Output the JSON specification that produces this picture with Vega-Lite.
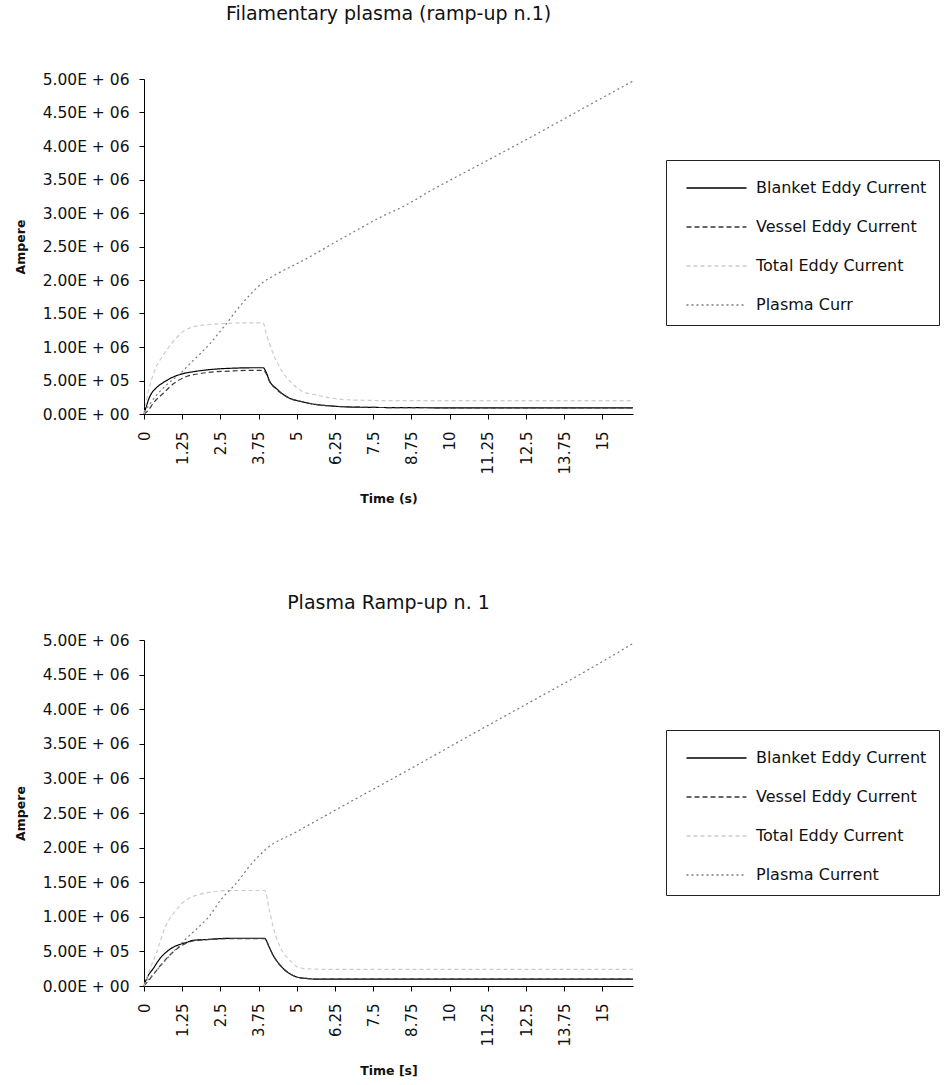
{
  "$schema": "https://vega.github.io/schema/vega-lite/v6.json",
  "padding": {"left": 14, "top": 5, "right": 0, "bottom": 0},
  "background": "white",
  "config": {
    "font": "DejaVu Sans",
    "view": {"stroke": null},
    "axis": {
      "grid": false,
      "domainColor": "#000",
      "domainWidth": 1,
      "tickColor": "#000",
      "tickSize": 5,
      "labelColor": "#111",
      "labelFont": "DejaVu Sans",
      "labelFontSize": 15,
      "titleFont": "DejaVu Sans",
      "titleFontSize": 12.5,
      "titleFontWeight": "bold",
      "titleColor": "#111"
    },
    "axisY": {"labelFontSize": 15.5, "labelPadding": 10, "titlePadding": 15},
    "axisX": {"labelPadding": 12, "titlePadding": 19},
    "title": {"font": "DejaVu Sans", "fontSize": 19, "fontWeight": "normal", "color": "#111", "anchor": "middle"},
    "legend": {
      "orient": "none",
      "direction": "vertical",
      "title": null,
      "strokeColor": "#222",
      "fillColor": "white",
      "padding": 12,
      "symbolType": "M-0.5,0H3.5",
      "symbolSize": 900,
      "symbolStrokeWidth": 1.4,
      "labelFont": "DejaVu Sans",
      "labelFontSize": 16,
      "labelColor": "#111",
      "labelOffset": 46,
      "labelLimit": 0,
      "rowPadding": 15
    }
  },
  "spacing": 88,
  "datasets": {
    "filament": [
      {"t": 0, "series": "Blanket Eddy Current", "current": 0},
      {"t": 0.1, "series": "Blanket Eddy Current", "current": 150000},
      {"t": 0.2, "series": "Blanket Eddy Current", "current": 270000},
      {"t": 0.4, "series": "Blanket Eddy Current", "current": 390000},
      {"t": 0.63, "series": "Blanket Eddy Current", "current": 470000},
      {"t": 0.9, "series": "Blanket Eddy Current", "current": 540000},
      {"t": 1.25, "series": "Blanket Eddy Current", "current": 600000},
      {"t": 1.6, "series": "Blanket Eddy Current", "current": 630000},
      {"t": 2.0, "series": "Blanket Eddy Current", "current": 655000},
      {"t": 2.5, "series": "Blanket Eddy Current", "current": 675000},
      {"t": 3.0, "series": "Blanket Eddy Current", "current": 685000},
      {"t": 3.5, "series": "Blanket Eddy Current", "current": 690000},
      {"t": 3.9, "series": "Blanket Eddy Current", "current": 690000},
      {"t": 4.0, "series": "Blanket Eddy Current", "current": 620000},
      {"t": 4.1, "series": "Blanket Eddy Current", "current": 500000},
      {"t": 4.33, "series": "Blanket Eddy Current", "current": 380000},
      {"t": 4.66, "series": "Blanket Eddy Current", "current": 260000},
      {"t": 5.2, "series": "Blanket Eddy Current", "current": 180000},
      {"t": 6.1, "series": "Blanket Eddy Current", "current": 120000},
      {"t": 7.2, "series": "Blanket Eddy Current", "current": 100000},
      {"t": 8.5, "series": "Blanket Eddy Current", "current": 95000},
      {"t": 10, "series": "Blanket Eddy Current", "current": 92000},
      {"t": 12, "series": "Blanket Eddy Current", "current": 90000},
      {"t": 14, "series": "Blanket Eddy Current", "current": 90000},
      {"t": 16, "series": "Blanket Eddy Current", "current": 90000},

      {"t": 0, "series": "Vessel Eddy Current", "current": 0},
      {"t": 0.15, "series": "Vessel Eddy Current", "current": 60000},
      {"t": 0.3, "series": "Vessel Eddy Current", "current": 160000},
      {"t": 0.63, "series": "Vessel Eddy Current", "current": 310000},
      {"t": 0.96, "series": "Vessel Eddy Current", "current": 450000},
      {"t": 1.39, "series": "Vessel Eddy Current", "current": 560000},
      {"t": 1.8, "series": "Vessel Eddy Current", "current": 600000},
      {"t": 2.2, "series": "Vessel Eddy Current", "current": 625000},
      {"t": 2.8, "series": "Vessel Eddy Current", "current": 640000},
      {"t": 3.4, "series": "Vessel Eddy Current", "current": 650000},
      {"t": 3.9, "series": "Vessel Eddy Current", "current": 650000},
      {"t": 4.0, "series": "Vessel Eddy Current", "current": 600000},
      {"t": 4.1, "series": "Vessel Eddy Current", "current": 490000},
      {"t": 4.33, "series": "Vessel Eddy Current", "current": 370000},
      {"t": 4.66, "series": "Vessel Eddy Current", "current": 260000},
      {"t": 5.2, "series": "Vessel Eddy Current", "current": 180000},
      {"t": 6.1, "series": "Vessel Eddy Current", "current": 120000},
      {"t": 7.2, "series": "Vessel Eddy Current", "current": 100000},
      {"t": 8.5, "series": "Vessel Eddy Current", "current": 95000},
      {"t": 10, "series": "Vessel Eddy Current", "current": 92000},
      {"t": 12, "series": "Vessel Eddy Current", "current": 92000},
      {"t": 14, "series": "Vessel Eddy Current", "current": 92000},
      {"t": 16, "series": "Vessel Eddy Current", "current": 92000},

      {"t": 0, "series": "Total Eddy Current", "current": 0},
      {"t": 0.15, "series": "Total Eddy Current", "current": 350000},
      {"t": 0.35, "series": "Total Eddy Current", "current": 650000},
      {"t": 0.63, "series": "Total Eddy Current", "current": 880000},
      {"t": 0.9, "series": "Total Eddy Current", "current": 1050000},
      {"t": 1.25, "series": "Total Eddy Current", "current": 1220000},
      {"t": 1.6, "series": "Total Eddy Current", "current": 1300000},
      {"t": 2.0, "series": "Total Eddy Current", "current": 1330000},
      {"t": 2.6, "series": "Total Eddy Current", "current": 1350000},
      {"t": 3.2, "series": "Total Eddy Current", "current": 1360000},
      {"t": 3.9, "series": "Total Eddy Current", "current": 1360000},
      {"t": 4.0, "series": "Total Eddy Current", "current": 1200000},
      {"t": 4.2, "series": "Total Eddy Current", "current": 930000},
      {"t": 4.46, "series": "Total Eddy Current", "current": 680000},
      {"t": 4.84, "series": "Total Eddy Current", "current": 460000},
      {"t": 5.17, "series": "Total Eddy Current", "current": 340000},
      {"t": 5.66, "series": "Total Eddy Current", "current": 280000},
      {"t": 6.75, "series": "Total Eddy Current", "current": 210000},
      {"t": 8, "series": "Total Eddy Current", "current": 200000},
      {"t": 10, "series": "Total Eddy Current", "current": 200000},
      {"t": 12, "series": "Total Eddy Current", "current": 200000},
      {"t": 14, "series": "Total Eddy Current", "current": 200000},
      {"t": 16, "series": "Total Eddy Current", "current": 200000},

      {"t": 0, "series": "Plasma Curr", "current": 30000},
      {"t": 0.13, "series": "Plasma Curr", "current": 110000},
      {"t": 0.41, "series": "Plasma Curr", "current": 280000},
      {"t": 0.8, "series": "Plasma Curr", "current": 460000},
      {"t": 1.18, "series": "Plasma Curr", "current": 600000},
      {"t": 1.5, "series": "Plasma Curr", "current": 750000},
      {"t": 1.84, "series": "Plasma Curr", "current": 900000},
      {"t": 2.16, "series": "Plasma Curr", "current": 1050000},
      {"t": 2.43, "series": "Plasma Curr", "current": 1200000},
      {"t": 2.7, "series": "Plasma Curr", "current": 1350000},
      {"t": 3.03, "series": "Plasma Curr", "current": 1550000},
      {"t": 3.47, "series": "Plasma Curr", "current": 1780000},
      {"t": 3.91, "series": "Plasma Curr", "current": 1970000},
      {"t": 4.35, "series": "Plasma Curr", "current": 2090000},
      {"t": 5.2, "series": "Plasma Curr", "current": 2290000},
      {"t": 6.75, "series": "Plasma Curr", "current": 2690000},
      {"t": 7.84, "series": "Plasma Curr", "current": 2960000},
      {"t": 8.5, "series": "Plasma Curr", "current": 3100000},
      {"t": 9.37, "series": "Plasma Curr", "current": 3330000},
      {"t": 10.85, "series": "Plasma Curr", "current": 3690000},
      {"t": 12.65, "series": "Plasma Curr", "current": 4130000},
      {"t": 14.6, "series": "Plasma Curr", "current": 4620000},
      {"t": 16, "series": "Plasma Curr", "current": 4970000}
    ],
    "rampup": [
      {"t": 0, "series": "Blanket Eddy Current", "current": 0},
      {"t": 0.08, "series": "Blanket Eddy Current", "current": 100000},
      {"t": 0.3, "series": "Blanket Eddy Current", "current": 250000},
      {"t": 0.51, "series": "Blanket Eddy Current", "current": 390000},
      {"t": 0.73, "series": "Blanket Eddy Current", "current": 490000},
      {"t": 0.95, "series": "Blanket Eddy Current", "current": 560000},
      {"t": 1.17, "series": "Blanket Eddy Current", "current": 600000},
      {"t": 1.39, "series": "Blanket Eddy Current", "current": 630000},
      {"t": 1.6, "series": "Blanket Eddy Current", "current": 660000},
      {"t": 2.0, "series": "Blanket Eddy Current", "current": 670000},
      {"t": 2.5, "series": "Blanket Eddy Current", "current": 685000},
      {"t": 3.0, "series": "Blanket Eddy Current", "current": 690000},
      {"t": 3.5, "series": "Blanket Eddy Current", "current": 690000},
      {"t": 3.95, "series": "Blanket Eddy Current", "current": 690000},
      {"t": 4.0, "series": "Blanket Eddy Current", "current": 660000},
      {"t": 4.1, "series": "Blanket Eddy Current", "current": 560000},
      {"t": 4.23, "series": "Blanket Eddy Current", "current": 440000},
      {"t": 4.4, "series": "Blanket Eddy Current", "current": 330000},
      {"t": 4.56, "series": "Blanket Eddy Current", "current": 250000},
      {"t": 4.8, "series": "Blanket Eddy Current", "current": 170000},
      {"t": 5.0, "series": "Blanket Eddy Current", "current": 130000},
      {"t": 5.3, "series": "Blanket Eddy Current", "current": 110000},
      {"t": 5.6, "series": "Blanket Eddy Current", "current": 100000},
      {"t": 7, "series": "Blanket Eddy Current", "current": 100000},
      {"t": 10, "series": "Blanket Eddy Current", "current": 100000},
      {"t": 13, "series": "Blanket Eddy Current", "current": 100000},
      {"t": 16, "series": "Blanket Eddy Current", "current": 100000},

      {"t": 0, "series": "Vessel Eddy Current", "current": 0},
      {"t": 0.19, "series": "Vessel Eddy Current", "current": 100000},
      {"t": 0.4, "series": "Vessel Eddy Current", "current": 220000},
      {"t": 0.68, "series": "Vessel Eddy Current", "current": 370000},
      {"t": 1.0, "series": "Vessel Eddy Current", "current": 510000},
      {"t": 1.3, "series": "Vessel Eddy Current", "current": 600000},
      {"t": 1.6, "series": "Vessel Eddy Current", "current": 650000},
      {"t": 2.0, "series": "Vessel Eddy Current", "current": 670000},
      {"t": 2.5, "series": "Vessel Eddy Current", "current": 680000},
      {"t": 3.0, "series": "Vessel Eddy Current", "current": 685000},
      {"t": 3.5, "series": "Vessel Eddy Current", "current": 685000},
      {"t": 3.95, "series": "Vessel Eddy Current", "current": 685000},
      {"t": 4.0, "series": "Vessel Eddy Current", "current": 655000},
      {"t": 4.1, "series": "Vessel Eddy Current", "current": 555000},
      {"t": 4.23, "series": "Vessel Eddy Current", "current": 440000},
      {"t": 4.4, "series": "Vessel Eddy Current", "current": 330000},
      {"t": 4.56, "series": "Vessel Eddy Current", "current": 250000},
      {"t": 4.8, "series": "Vessel Eddy Current", "current": 170000},
      {"t": 5.0, "series": "Vessel Eddy Current", "current": 130000},
      {"t": 5.3, "series": "Vessel Eddy Current", "current": 110000},
      {"t": 5.6, "series": "Vessel Eddy Current", "current": 100000},
      {"t": 7, "series": "Vessel Eddy Current", "current": 100000},
      {"t": 10, "series": "Vessel Eddy Current", "current": 100000},
      {"t": 13, "series": "Vessel Eddy Current", "current": 100000},
      {"t": 16, "series": "Vessel Eddy Current", "current": 100000},

      {"t": 0, "series": "Total Eddy Current", "current": 0},
      {"t": 0.2, "series": "Total Eddy Current", "current": 250000},
      {"t": 0.4, "series": "Total Eddy Current", "current": 470000},
      {"t": 0.7, "series": "Total Eddy Current", "current": 860000},
      {"t": 1.0, "series": "Total Eddy Current", "current": 1070000},
      {"t": 1.4, "series": "Total Eddy Current", "current": 1250000},
      {"t": 1.8, "series": "Total Eddy Current", "current": 1320000},
      {"t": 2.25, "series": "Total Eddy Current", "current": 1360000},
      {"t": 2.8, "series": "Total Eddy Current", "current": 1380000},
      {"t": 3.4, "series": "Total Eddy Current", "current": 1380000},
      {"t": 3.95, "series": "Total Eddy Current", "current": 1380000},
      {"t": 4.1, "series": "Total Eddy Current", "current": 1100000},
      {"t": 4.23, "series": "Total Eddy Current", "current": 850000},
      {"t": 4.4, "series": "Total Eddy Current", "current": 620000},
      {"t": 4.56, "series": "Total Eddy Current", "current": 480000},
      {"t": 4.8, "series": "Total Eddy Current", "current": 360000},
      {"t": 5.0, "series": "Total Eddy Current", "current": 280000},
      {"t": 5.3, "series": "Total Eddy Current", "current": 250000},
      {"t": 6, "series": "Total Eddy Current", "current": 240000},
      {"t": 8, "series": "Total Eddy Current", "current": 240000},
      {"t": 10, "series": "Total Eddy Current", "current": 240000},
      {"t": 13, "series": "Total Eddy Current", "current": 240000},
      {"t": 16, "series": "Total Eddy Current", "current": 240000},

      {"t": 0, "series": "Plasma Current", "current": 30000},
      {"t": 0.3, "series": "Plasma Current", "current": 170000},
      {"t": 0.62, "series": "Plasma Current", "current": 330000},
      {"t": 0.95, "series": "Plasma Current", "current": 490000},
      {"t": 1.3, "series": "Plasma Current", "current": 650000},
      {"t": 1.83, "series": "Plasma Current", "current": 870000},
      {"t": 2.1, "series": "Plasma Current", "current": 990000},
      {"t": 2.54, "series": "Plasma Current", "current": 1260000},
      {"t": 3.03, "series": "Plasma Current", "current": 1490000},
      {"t": 3.47, "series": "Plasma Current", "current": 1740000},
      {"t": 4.0, "series": "Plasma Current", "current": 1980000},
      {"t": 5.0, "series": "Plasma Current", "current": 2230000},
      {"t": 6.5, "series": "Plasma Current", "current": 2600000},
      {"t": 8.6, "series": "Plasma Current", "current": 3110000},
      {"t": 10.5, "series": "Plasma Current", "current": 3580000},
      {"t": 12.54, "series": "Plasma Current", "current": 4080000},
      {"t": 14.5, "series": "Plasma Current", "current": 4560000},
      {"t": 16, "series": "Plasma Current", "current": 4950000}
    ]
  },
  "vconcat": [
    {
      "title": {"text": "Filamentary plasma (ramp-up n.1)", "offset": 48},
      "width": 489,
      "height": 335,
      "data": {"name": "filament"},
      "mark": {"type": "line", "strokeWidth": 1.2, "interpolate": "monotone"},
      "encoding": {
        "x": {
          "field": "t", "type": "quantitative",
          "scale": {"domain": [0, 16], "nice": false},
          "axis": {
            "title": "Time (s)",
            "values": [0, 1.25, 2.5, 3.75, 5, 6.25, 7.5, 8.75, 10, 11.25, 12.5, 13.75, 15],
            "labelAngle": -90,
            "labelExpr": "toString(datum.value)"
          }
        },
        "y": {
          "field": "current", "type": "quantitative",
          "scale": {"domain": [0, 5000000], "nice": false},
          "axis": {
            "title": "Ampere",
            "values": [0, 500000, 1000000, 1500000, 2000000, 2500000, 3000000, 3500000, 4000000, 4500000, 5000000],
            "labelExpr": "datum.value == 0 ? '0.00E + 00' : datum.value < 1000000 ? format(datum.value / 100000, '.2f') + 'E + 05' : format(datum.value / 1000000, '.2f') + 'E + 06'"
          }
        },
        "color": {
          "field": "series", "type": "nominal",
          "scale": {"domain": ["Blanket Eddy Current", "Vessel Eddy Current", "Total Eddy Current", "Plasma Curr"], "range": ["#000000", "#3a3a3a", "#cccccc", "#7a7a7a"]},
          "legend": {"legendX": 522, "legendY": 81}
        },
        "strokeDash": {
          "field": "series", "type": "nominal",
          "scale": {"domain": ["Blanket Eddy Current", "Vessel Eddy Current", "Total Eddy Current", "Plasma Curr"], "range": [[1, 0], [5, 3], [4, 3], [2, 3]]},
          "legend": {"legendX": 522, "legendY": 81}
        }
      }
    },
    {
      "title": {"text": "Plasma Ramp-up n. 1", "offset": 20},
      "width": 489,
      "height": 346,
      "data": {"name": "rampup"},
      "mark": {"type": "line", "strokeWidth": 1.2, "interpolate": "monotone"},
      "encoding": {
        "x": {
          "field": "t", "type": "quantitative",
          "scale": {"domain": [0, 16], "nice": false},
          "axis": {
            "title": "Time [s]",
            "values": [0, 1.25, 2.5, 3.75, 5, 6.25, 7.5, 8.75, 10, 11.25, 12.5, 13.75, 15],
            "labelAngle": -90,
            "labelExpr": "toString(datum.value)"
          }
        },
        "y": {
          "field": "current", "type": "quantitative",
          "scale": {"domain": [0, 5000000], "nice": false},
          "axis": {
            "title": "Ampere",
            "values": [0, 500000, 1000000, 1500000, 2000000, 2500000, 3000000, 3500000, 4000000, 4500000, 5000000],
            "labelExpr": "datum.value == 0 ? '0.00E + 00' : datum.value < 1000000 ? format(datum.value / 100000, '.2f') + 'E + 05' : format(datum.value / 1000000, '.2f') + 'E + 06'"
          }
        },
        "color": {
          "field": "series", "type": "nominal",
          "scale": {"domain": ["Blanket Eddy Current", "Vessel Eddy Current", "Total Eddy Current", "Plasma Current"], "range": ["#000000", "#3a3a3a", "#cccccc", "#7a7a7a"]},
          "legend": {"legendX": 522, "legendY": 90}
        },
        "strokeDash": {
          "field": "series", "type": "nominal",
          "scale": {"domain": ["Blanket Eddy Current", "Vessel Eddy Current", "Total Eddy Current", "Plasma Current"], "range": [[1, 0], [5, 3], [4, 3], [2, 3]]},
          "legend": {"legendX": 522, "legendY": 90}
        }
      }
    }
  ],
  "resolve": {
    "scale": {"color": "independent", "strokeDash": "independent"},
    "legend": {"color": "independent", "strokeDash": "independent"}
  }
}
